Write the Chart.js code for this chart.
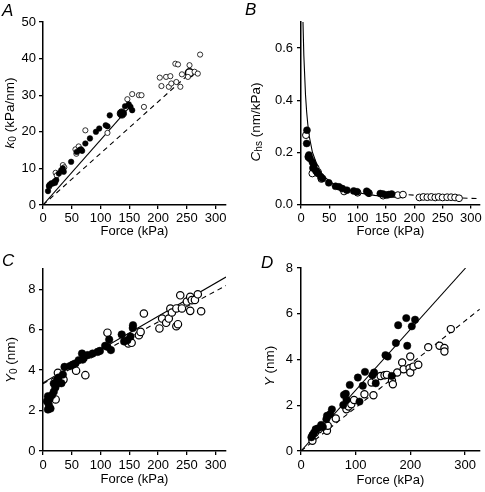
<!DOCTYPE html>
<html>
<head>
<meta charset="utf-8">
<script src="https://cdn.jsdelivr.net/npm/chart.js@4.4.0/dist/chart.umd.min.js"></script>
<style>
  html, body { margin: 0; padding: 0; background: #fff; }
  #wrap { position: relative; width: 485px; height: 492px; }
  canvas { position: absolute; }
</style>
</head>
<body>
<div id="wrap">
  <canvas id="pa" width="243" height="246" style="left:0;top:0;width:243px;height:246px"></canvas>
  <canvas id="pb" width="242" height="246" style="left:243px;top:0;width:242px;height:246px"></canvas>
  <canvas id="pc" width="243" height="246" style="left:0;top:246px;width:243px;height:246px"></canvas>
  <canvas id="pd" width="242" height="246" style="left:243px;top:246px;width:242px;height:246px"></canvas>
</div>
<script>
//------------ panel A : k0 vs force ------------//
const aFilled = [[8.7,3.8],[10.4,5.2],[11.5,5.5],[14.4,5.9],[17,5.9],[20.2,6.4],[21,6.1],[23,6.8],[27.6,8.6],[31.7,9.5],[34.5,10],[36,9.1],[48.9,11.8],[58.6,14.5],[63.3,15],[66,15.2],[68,14.8],[73.6,16.8],[81.6,18.2],[92,20],[97.7,20.9],[109,21.8],[112,21.5],[116,24.5],[142.6,27],[149,27.5],[152,26.8],[155,25.9]];
const aOpen = [[11,5],[21.9,8.8],[24,8.1],[34.5,10.9],[37,10.3],[56.4,15.2],[58,14],[62,16],[73.6,20.4],[112,19.7],[146.6,28.9],[155,30.3],[166.7,30],[171.2,30],[175.4,26.8],[202.9,34.8],[205.8,32.5],[213.9,35],[221.3,35.2],[218.6,32.3],[223,33.2],[231.7,33.6],[230,38.6],[234.6,38.4],[238.7,32.3],[241.4,35.7],[251.8,35],[254.6,38.2],[263.4,36.4],[269,35.9],[273,41.1]];
const aBigFilled = [[137,25]];
const aBigOpen = [[254.6,36.1]];
const aSolid = [[0,0],[152,27]];
const aDashed = [[0,0],[256,36.1]];

//------------ panel B : Chs vs force ------------//
const bFilled = [[10.5,0.285],[10,0.234],[12.8,0.183],[14,0.19],[16,0.176],[20,0.163],[23,0.15],[21,0.14],[26,0.13],[28,0.125],[30,0.119],[35,0.106],[38,0.1],[49,0.083],[61,0.07],[67,0.068],[73,0.061],[81,0.055],[93,0.052],[99,0.049],[116,0.051],[119,0.045],[140,0.042],[145,0.04],[151,0.036],[155,0.038],[160,0.04]];
const bOpen = [[8.7,0.266],[14,0.18],[20,0.119],[26,0.14],[30,0.125],[36,0.098],[76,0.05],[100,0.045],[120,0.043],[145,0.034],[171,0.036],[180,0.038],[209,0.027],[216,0.029],[223,0.028],[230,0.029],[237,0.027],[243,0.029],[250,0.027],[258,0.028],[265,0.028],[272,0.027],[279,0.024]];
const bSolid = [[3.5,0.7],[5,0.572],[8,0.419],[10,0.355],[12,0.308],[15,0.257],[20,0.202],[30,0.141],[40,0.108],[60,0.074],[80,0.0585],[100,0.045],[130,0.035],[165,0.028],[180,0.026]];
const bDashed = [[190,0.0373],[220,0.0322],[250,0.0284],[280,0.0253],[316,0.0224]];

//------------ panel C : Y0 vs force ------------//
const cFilled = [[6.9,2.46],[8.6,2.05],[11.5,2.13],[13,2.1],[10,2.3],[8.6,2.71],[11.7,2.6],[15.8,2.77],[18.7,2.93],[21.5,3.14],[18.7,3.34],[24.4,3.5],[26.9,3.63],[28.7,3.37],[32,3.35],[34.5,3.78],[37.4,4.16],[47,4.2],[51.7,4.27],[56.2,4.33],[62,4.49],[67.8,4.82],[69,4.52],[71.8,4.66],[77.6,4.74],[86.2,4.82],[94.9,4.9],[98.9,4.95],[108,5.2],[112,5.15],[115,5.51],[118,4.99],[136.8,5.76],[141,5.42],[146.6,5.48],[152,5.66],[156.4,6.22],[156,6.08]];
const cOpen = [[22,2.55],[25.9,3.87],[35.6,3.53],[57.5,3.97],[73.6,3.75],[112,5.85],[148.3,5.32],[154,5.35],[166.7,5.73],[169.6,5.89],[175.3,6.8],[202.3,6.06],[207,6.55],[214,6.34],[218.6,6.55],[221.3,7.04],[224,6.85],[231.7,6.17],[231.7,7.05],[234.5,6.27],[238.5,7.7],[241.4,7.05],[250,7.39],[255.8,7.62],[255.8,6.93],[258.6,7.46],[264,7.47],[269,7.75],[274.8,6.91]];
const cSolid = [[0,3.37],[318,8.6]];
const cDashed = [[0,3.33],[318,8.18]];

//------------ panel D : Y vs force ------------//
const dFilled = [[19,0.6],[21,0.7],[23.8,0.8],[26.8,0.95],[30.9,0.99],[36.9,1.14],[40,1.05],[46.4,1.39],[47.6,1.54],[53.5,1.62],[56.5,1.82],[77.3,2.01],[78.5,2.45],[82,2.5],[83.2,2.23],[89.2,2.89],[104,3.21],[107,2.16],[113,2.85],[117,3.46],[130.7,3.31],[133.7,3.43],[136.7,2.96],[154.5,4.19],[158.6,4.13],[166,3.28],[173.5,4.72],[177.7,5.5],[192.5,5.81],[194.3,4.6],[202.6,5.45],[208.6,5.74]];
const dOpen = [[20.9,0.45],[25.5,0.8],[32.7,0.95],[47.5,0.88],[49,1.1],[63.6,1.42],[83,1.82],[87,1.94],[92,2.04],[97,2.23],[116,2.48],[132.5,2.44],[129,2.99],[136.7,3.21],[145.6,3.28],[152.7,3.31],[157,3.33],[166.4,3.07],[168,2.92],[176,3.43],[185,3.87],[187.7,3.57],[198.4,3.62],[199.8,3.43],[199.8,4.13],[205.6,3.69],[214.5,3.77],[232.7,4.54],[253.4,4.6],[262.3,4.5],[262.3,4.35],[274,5.33]];
const dSolid = [[0,0],[301,8]];
const dDashed = [[0,0],[327,6.2]];

//------ letters + y titles (drawn by the plugin below) ------//
const titles = {
  pa: { letter: 'A', lx: 2, ly: 16, x: 10, y: 113, parts: [{t:'k', it:1}, {t:'0', sub:1}, {t:' (kPa/nm)'}] },
  pb: { letter: 'B', lx: 2, ly: 15, x: 13, y: 122, parts: [{t:'C', it:1}, {t:'hs', sub:1}, {t:' (nm/kPa)'}] },
  pc: { letter: 'C', lx: 2, ly: 20, x: 11, y: 114, parts: [{t:'Y', it:1}, {t:'0', sub:1}, {t:' (nm)'}] },
  pd: { letter: 'D', lx: 18, ly: 22, x: 27, y: 120, parts: [{t:'Y', it:1}, {t:' (nm)'}] }
};

Chart.defaults.font.family = '"Liberation Sans", Arial, sans-serif';
Chart.defaults.font.size = 13;
Chart.defaults.color = '#000';

const FAM = '"Liberation Sans", Arial, sans-serif';
const richTitle = {
  id: 'richTitle',
  afterDraw(chart) {
    const o = titles[chart.canvas.id];
    const ctx = chart.ctx;
    ctx.save();
    ctx.fillStyle = '#000';
    ctx.textAlign = 'left';
    ctx.textBaseline = 'alphabetic';
    ctx.font = 'italic 17px ' + FAM;
    ctx.fillText(o.letter, o.lx, o.ly);
    ctx.translate(o.x, o.y);
    ctx.rotate(-Math.PI / 2);
    ctx.textBaseline = 'middle';
    const fonts = o.parts.map(p => (p.it ? 'italic ' : '') + (p.sub ? '10px ' : '13.5px ') + FAM);
    let w = 0;
    o.parts.forEach((p, i) => { ctx.font = fonts[i]; w += ctx.measureText(p.t).width; });
    let x = -w / 2;
    o.parts.forEach((p, i) => {
      ctx.font = fonts[i];
      ctx.fillText(p.t, x, p.sub ? 3 : 0);
      x += ctx.measureText(p.t).width;
    });
    ctx.restore();
  }
};

const pts = arr => arr.map(p => ({ x: p[0], y: p[1] }));

function axis(min, max, step, tickPad, fmt) {
  const a = {
    type: 'linear', min: min, max: max,
    ticks: { stepSize: step, includeBounds: false, padding: tickPad, color: '#000', font: { size: 13 } },
    grid: { display: true, drawOnChartArea: false, drawTicks: true, tickLength: 4, color: '#000', lineWidth: 1.3 },
    border: { display: true, color: '#000', width: 1.5 }
  };
  if (fmt) a.ticks.callback = fmt;
  return a;
}

function panel(id, o) {
  const datasets = [];
  datasets.push({ data: pts(o.filled), pointRadius: o.r, pointBackgroundColor: '#000', pointBorderColor: '#000', pointBorderWidth: 0.5 });
  if (o.bigFilled) datasets.push({ data: pts(o.bigFilled), pointRadius: o.bigR, pointBackgroundColor: '#000', pointBorderColor: '#000' });
  datasets.push({ data: pts(o.open), pointRadius: o.rOpen, pointBackgroundColor: '#fff', pointBorderColor: '#000', pointBorderWidth: o.ow });
  if (o.bigOpen) datasets.push({ data: pts(o.bigOpen), pointRadius: o.bigR - 0.5, pointBackgroundColor: '#fff', pointBorderColor: '#000', pointBorderWidth: 1.6 });
  datasets.push({ data: pts(o.solid), showLine: true, pointRadius: 0, borderColor: '#000', borderWidth: 1.1, fill: false });
  datasets.push({ data: pts(o.dashed), showLine: true, pointRadius: 0, borderColor: '#000', borderWidth: 1.1, borderDash: [5, 4], fill: false });

  const x = axis(0, o.xmax, o.xstep, o.xTickPad);
  x.position = 'bottom';
  x.afterFit = s => { s.height = o.xh; };
  x.title = { display: true, text: 'Force (kPa)', color: '#000', font: { size: 13 }, padding: { top: 0, bottom: o.xTitlePad } };
  const y = axis(0, o.ymax, o.ystep, o.yTickPad, o.yfmt);
  y.position = 'left';
  y.afterFit = s => { s.width = o.yw; };

  new Chart(document.getElementById(id), {
    type: 'scatter',
    data: { datasets: datasets },
    options: {
      responsive: false, animation: false, events: [],
      layout: { padding: o.pad },
      plugins: { legend: { display: false }, tooltip: { enabled: false } },
      scales: { x: x, y: y }
    },
    plugins: [richTitle]
  });
}

panel('pa', { filled: aFilled, open: aOpen, bigFilled: aBigFilled, bigOpen: aBigOpen, solid: aSolid, dashed: aDashed,
  r: 2.8, rOpen: 2.6, ow: 0.8, bigR: 4.6,
  xmax: 318, xstep: 50, ymax: 50, ystep: 10, yw: 43, xh: 41, xTickPad: 2, yTickPad: 3, xTitlePad: 7,
  pad: { top: 22, right: 17, left: 0, bottom: 0 } });

panel('pb', { filled: bFilled, open: bOpen, solid: bSolid, dashed: bDashed,
  r: 3.5, rOpen: 3.4, ow: 1,
  xmax: 316, xstep: 50, ymax: 0.7, ystep: 0.2, yw: 58, xh: 41.5, xTickPad: 2, yTickPad: 4, xTitlePad: 7,
  yfmt: v => v.toFixed(1),
  pad: { top: 22, right: 3, left: 0, bottom: 0 } });

panel('pc', { filled: cFilled, open: cOpen, solid: cSolid, dashed: cDashed,
  r: 3.8, rOpen: 3.7, ow: 1.2,
  xmax: 318, xstep: 50, ymax: 9, ystep: 2, yw: 43, xh: 41, xTickPad: 3, yTickPad: 3.5, xTitlePad: 5,
  pad: { top: 23, right: 17, left: 0, bottom: 0 } });

panel('pd', { filled: dFilled, open: dOpen, solid: dSolid, dashed: dDashed,
  r: 3.7, rOpen: 3.6, ow: 1.2,
  xmax: 327, xstep: 100, ymax: 8, ystep: 2, yw: 58, xh: 41, xTickPad: 3, yTickPad: 4, xTitlePad: 4,
  pad: { top: 22, right: 1, left: 0, bottom: 0 } });
</script>
</body>
</html>
